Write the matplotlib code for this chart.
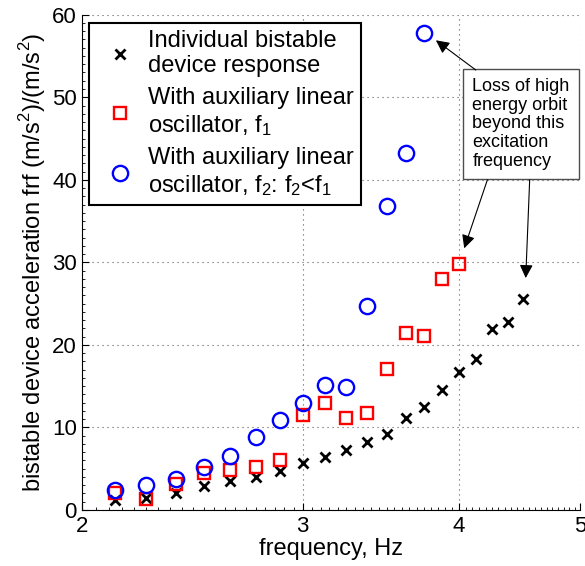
import matplotlib
matplotlib.use('Agg')
import matplotlib.pyplot as plt
import numpy as np
from matplotlib.ticker import FixedLocator, NullFormatter, MultipleLocator

plt.rcParams['font.family'] = ['Liberation Sans', 'DejaVu Sans']
plt.rcParams['mathtext.fontset'] = 'custom'
plt.rcParams['mathtext.rm'] = 'Liberation Sans'

## Data
freq = [2.125, 2.25, 2.375, 2.5, 2.625, 2.75, 2.875, 3.0, 3.125, 3.25,
        3.375, 3.5, 3.625, 3.75, 3.875, 4.0, 4.125, 4.25, 4.375, 4.5]

single = [1.2, 1.5, 2.1, 2.9, 3.5, 4.0, 4.75, 5.65, 6.4, 7.27,
          8.2, 9.2, 11.2, 12.5, 14.55, 16.7, 18.3, 21.9, 22.75, 25.6]

aux_f1 = [2.0, 1.3, 3.2, 4.5, 4.8, 5.25, 6.1, 11.5, 12.9, 11.1,
          11.7, 17.05, 21.4, 21.1, 28.0, 29.8]

aux_f2 = [2.4, 3.0, 3.75, 5.25, 6.5, 8.8, 10.9, 12.9, 15.2, 14.95,
          24.7, 36.85, 43.2, 57.8]

labels = ['Individual bistable\ndevice response',
          'With auxiliary linear\noscillator, $\\mathregular{f_1}$',
          'With auxiliary linear\noscillator, $\\mathregular{f_2}$: $\\mathregular{f_2}$<$\\mathregular{f_1}$']

note = 'Loss of high\nenergy orbit\nbeyond this\nexcitation\nfrequency'

## Plotting
fig = plt.figure(figsize=(5.85, 5.66), dpi=100)
ax = fig.add_axes([0.141, 0.099, 0.851, 0.875])

ax.plot(freq, single, linestyle='none', marker='x', ms=7.5, mew=2.0,
        color='k', label=labels[0])
ax.plot(freq[:len(aux_f1)], aux_f1, linestyle='none', marker='s', ms=8.6,
        mew=1.7, mfc='none', mec='r', label=labels[1])
ax.plot(freq[:len(aux_f2)], aux_f2, linestyle='none', marker='o', ms=11,
        mew=1.7, mfc='none', mec='b', label=labels[2])

ax.set_xscale('log')
ax.set_xlim(2, 5)
ax.set_ylim(0, 60)
ax.xaxis.set_major_locator(FixedLocator([2, 3, 4, 5]))
ax.xaxis.set_major_formatter(matplotlib.ticker.FixedFormatter(['2', '3', '4', '5']))
ax.xaxis.set_minor_locator(FixedLocator(np.arange(2.0, 5.0, 0.05)))
ax.xaxis.set_minor_formatter(NullFormatter())
ax.yaxis.set_major_locator(MultipleLocator(10))
ax.yaxis.set_minor_locator(MultipleLocator(1))

ax.tick_params(which='both', direction='in', top=False, right=False, labelsize=16)
ax.tick_params(which='major', length=5, width=0.8, pad=4)
ax.tick_params(which='minor', length=2.5, width=0.6)
ax.spines['top'].set_visible(False)
ax.spines['right'].set_visible(False)
ax.grid(True, which='major', linestyle=(0, (1, 3.5)), color='0.35', lw=0.8)

ax.set_xlabel('frequency, Hz', fontsize=17, labelpad=1)
ax.set_ylabel('bistable device acceleration frf (m/s$^2$)/(m/s$^2$)', fontsize=17, labelpad=3)

leg = ax.legend(loc='upper left', bbox_to_anchor=(89 / 585, 1 - 23 / 566),
                bbox_transform=fig.transFigure, borderaxespad=0, fontsize=17,
                fancybox=False, framealpha=1, edgecolor='k', handlelength=2.0,
                handletextpad=0.2, labelspacing=0.4, borderpad=0.3,
                handleheight=0.7)
leg.get_frame().set_linewidth(1.5)
for t in leg.get_texts():
    t.set_linespacing(1.2)

## Annotation box and arrows
ax.text(4.1, 52.3, note, fontsize=13, va='top', ha='left', linespacing=1.12,
        bbox=dict(boxstyle='square,pad=0.5', fc='white', ec='0.3', lw=1.0))
arrow = dict(arrowstyle='-|>', color='k', lw=0.8, mutation_scale=20, shrinkA=0, shrinkB=0)
ax.annotate('', xy=(3.833, 56.9), xytext=(4.125, 53.3), arrowprops=arrow)
ax.annotate('', xy=(4.038, 31.7), xytext=(4.214, 40.0), arrowprops=arrow)
ax.annotate('', xy=(4.522, 28.1), xytext=(4.555, 40.0), arrowprops=arrow)

fig.savefig('out.png', dpi=100)
